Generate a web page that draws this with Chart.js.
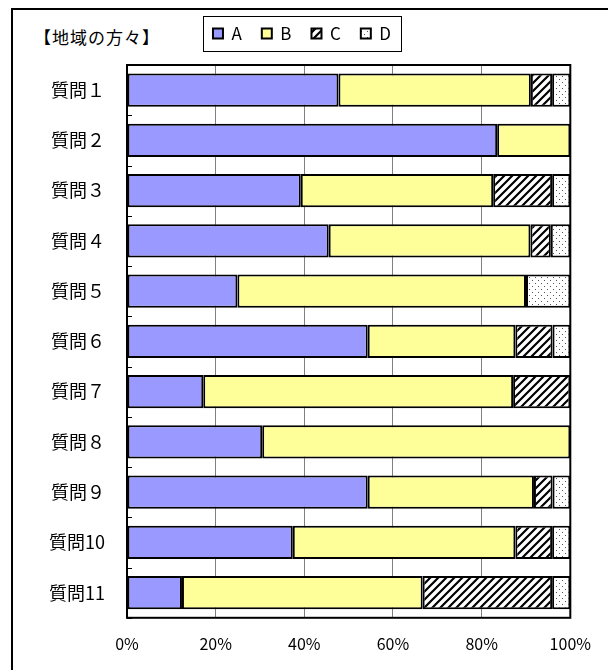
<!DOCTYPE html>
<html>
<head>
<meta charset="utf-8">
<script src="https://cdn.jsdelivr.net/npm/chart.js@4"></script>
<style>
html, body { margin: 0; padding: 0; background: #fff; overflow: hidden; }
#wrap { position: relative; width: 608px; height: 670px; }
#frame { position: absolute; left: 11px; top: 8px; width: 620px; height: 700px; border: 2px solid #000; box-sizing: border-box; }
#title { position: absolute; left: 34px; top: 24px; font: 17px "Noto Sans CJK JP", sans-serif; letter-spacing: 1px; color: #000; }
canvas { position: absolute; left: 0; top: 0; }
</style>
</head>
<body>
<div id="wrap">
  <div id="frame"></div>
  <div id="title">【地域の方々】</div>
  <canvas id="chart"></canvas>
</div>
<script>
var questions = ['質問１', '質問２', '質問３', '質問４', '質問５', '質問６', '質問７', '質問８', '質問９', '質問10', '質問11'];
var seriesA = [47.7, 83.5, 39.2, 45.5, 24.9, 54.3, 17.2, 30.5, 54.3, 37.4, 12.4];
var seriesB = [43.4, 16.5, 43.4, 45.5, 65.1, 33.3, 69.9, 69.5, 37.5, 50.2, 54.3];
var seriesC = [4.8, 0, 13.3, 4.6, 0, 8.4, 12.9, 0, 4.2, 8.3, 29.2];
var seriesD = [4.1, 0, 4.1, 4.4, 10.0, 4.0, 0, 0, 4.0, 4.1, 4.1];
var xTicks = [0, 20, 40, 60, 80, 100];

function hatch() {
    var c = document.createElement('canvas');
    c.width = 8; c.height = 8;
    var g = c.getContext('2d');
    g.fillStyle = '#fff';
    g.fillRect(0, 0, 8, 8);
    g.strokeStyle = '#000';
    g.lineWidth = 2.2;
    g.beginPath();
    g.moveTo(-2, 10); g.lineTo(10, -2);
    g.moveTo(-2, 2); g.lineTo(2, -2);
    g.moveTo(6, 10); g.lineTo(10, 6);
    g.stroke();
    return g.createPattern(c, 'repeat');
}

function dots() {
    var c = document.createElement('canvas');
    c.width = 6; c.height = 6;
    var g = c.getContext('2d');
    g.fillStyle = '#fff';
    g.fillRect(0, 0, 6, 6);
    g.fillStyle = '#555';
    g.fillRect(1, 1, 1, 1);
    g.fillRect(4, 4, 1, 1);
    return g.createPattern(c, 'repeat');
}

var font = '"Noto Sans CJK JP", sans-serif';
Chart.defaults.font.family = font;
Chart.defaults.color = '#000';

var cv = document.getElementById('chart');
cv.width = 608;
cv.height = 670;
var ctx = cv.getContext('2d');

var bw = function(c) { return c.raw ? 2 : 0; };

// extra gap under the legend
var legendGap = {
    id: 'legendGap',
    beforeLayout: function(chart) {
        var lg = chart.legend;
        if (lg && !lg._gapped) {
            var fit = lg.fit;
            lg.fit = function() { fit.call(this); this.height += 13; };
            lg._gapped = true;
        }
    }
};

// small inner ticks at category boundaries + legend frame + plot frame
var extras = {
    id: 'extras',
    afterDraw: function(chart) {
        var g = chart.ctx, a = chart.chartArea, y = chart.scales.y;
        g.save();
        g.strokeStyle = '#000';
        g.lineWidth = 1;
        for (let i = 0; i <= questions.length; i++) {
            var py = Math.round(y.getPixelForValue(i - 0.5)) + 0.5;
            g.beginPath();
            g.moveTo(a.left, py);
            g.lineTo(a.left + 5, py);
            g.stroke();
        }
        g.lineWidth = 2;
        g.strokeRect(a.left, a.top, a.right - a.left, a.bottom - a.top);
        var boxes = chart.legend.legendHitBoxes;
        if (boxes.length) {
            var l = boxes[0].left - 10, t = boxes[0].top - 9;
            var last = boxes[boxes.length - 1];
            var r = last.left + last.width + 10, b = last.top + last.height + 9;
            g.lineWidth = 1;
            g.strokeRect(Math.round(l) + 0.5, Math.round(t) + 0.5, Math.round(r - l), Math.round(b - t));
        }
        g.restore();
    }
};

var chart = new Chart(ctx, {
    type: 'bar',
    data: {
        labels: questions,
        datasets: [
            { label: 'A', data: seriesA, backgroundColor: '#9999FF' },
            { label: 'B', data: seriesB, backgroundColor: '#FFFF99' },
            { label: 'C', data: seriesC, backgroundColor: hatch() },
            { label: 'D', data: seriesD, backgroundColor: dots() }
        ]
    },
    options: {
        indexAxis: 'y',
        responsive: false,
        animation: false,
        devicePixelRatio: 1,
        layout: { padding: { left: 32, right: 36, top: 5, bottom: 0 } },
        datasets: {
            bar: {
                borderColor: '#000',
                borderWidth: bw,
                borderSkipped: false,
                categoryPercentage: 1,
                barPercentage: 0.66
            }
        },
        scales: {
            x: {
                stacked: true,
                min: 0,
                max: 100,
                afterBuildTicks: function(s) { s.ticks = xTicks.map(function(v) { return { value: v }; }); },
                afterFit: function(s) { s.height = s.height - 1; },
                ticks: {
                    font: { size: 16 },
                    padding: 17,
                    callback: function(v) { return v + '%'; }
                },
                grid: { color: '#808080', lineWidth: 1, drawTicks: false },
                border: { display: false }
            },
            y: {
                stacked: true,
                afterFit: function(s) { s.width = 95; },
                ticks: { font: { size: 18 }, padding: 22 },
                grid: { display: false, drawTicks: false },
                border: { display: false }
            }
        },
        plugins: {
            legend: {
                position: 'top',
                labels: {
                    boxWidth: 10,
                    boxHeight: 10,
                    padding: 20,
                    font: { size: 17 },
                    generateLabels: function(c) {
                        return Chart.defaults.plugins.legend.labels.generateLabels(c).map(function(l) {
                            l.lineWidth = 2;
                            l.strokeStyle = '#000';
                            return l;
                        });
                    }
                }
            },
            tooltip: { enabled: false }
        }
    },
    plugins: [legendGap, extras]
});
</script>
</body>
</html>
